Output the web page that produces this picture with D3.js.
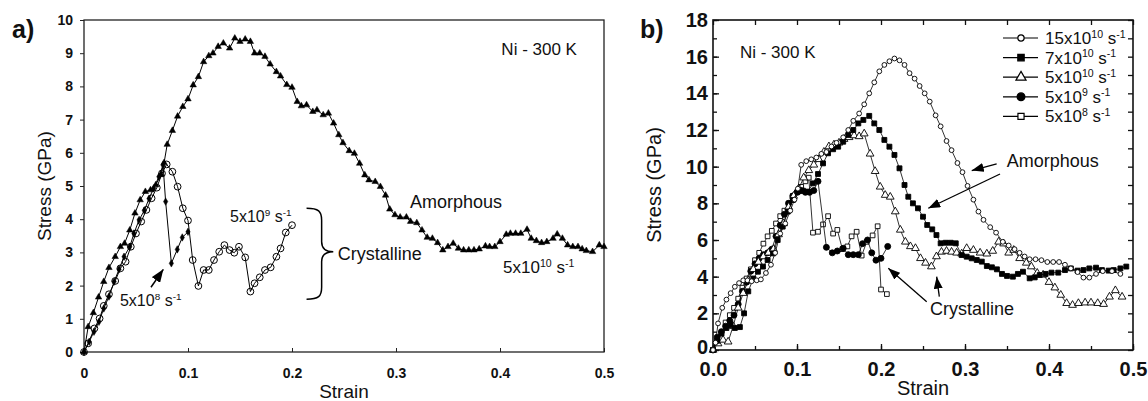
<!DOCTYPE html>
<html><head><meta charset="utf-8">
<script src="https://cdn.jsdelivr.net/npm/d3@7/dist/d3.min.js"></script>
<style>body{margin:0;background:#fff}svg{display:block}</style>
</head><body>
<svg id="c" width="1148" height="401"></svg>
<script>
// ---------- Panel a data: [strain, stress GPa] ----------
const a_rate5e10 = [[0,0],[0.004,0.76],[0.009,1.18],[0.014,1.65],[0.019,2.12],[0.024,2.54],[0.030,2.87],[0.035,3.17],[0.039,3.27],[0.044,3.67],[0.049,4.18],[0.054,4.58],[0.059,4.83],[0.064,4.88],[0.069,5.03],[0.074,5.35],[0.077,5.7],[0.080,6.25],[0.085,6.67],[0.090,7.1],[0.095,7.39],[0.100,7.62],[0.105,8.04],[0.110,8.29],[0.115,8.74],[0.120,8.92],[0.124,9.0],[0.129,9.2],[0.134,9.3],[0.140,9.15],[0.145,9.45],[0.150,9.35],[0.155,9.42],[0.160,9.35],[0.164,9.0],[0.169,9.0],[0.174,8.9],[0.179,8.67],[0.185,8.44],[0.189,8.31],[0.195,8.05],[0.200,7.97],[0.205,7.54],[0.209,7.41],[0.214,7.44],[0.220,7.24],[0.224,7.29],[0.230,7.14],[0.235,7.19],[0.240,6.89],[0.245,6.54],[0.249,6.3],[0.255,6.06],[0.260,5.98],[0.265,5.68],[0.270,5.33],[0.274,5.18],[0.280,5.13],[0.285,4.98],[0.290,4.72],[0.294,4.3],[0.299,4.13],[0.304,4.06],[0.310,4.06],[0.314,3.93],[0.320,3.89],[0.325,3.67],[0.330,3.45],[0.335,3.42],[0.340,3.29],[0.345,3.07],[0.350,3.17],[0.355,3.27],[0.360,3.12],[0.365,3.07],[0.370,3.07],[0.375,3.07],[0.380,3.1],[0.386,3.19],[0.390,3.17],[0.395,3.17],[0.400,3.32],[0.406,3.54],[0.410,3.57],[0.415,3.57],[0.420,3.57],[0.426,3.69],[0.430,3.42],[0.435,3.35],[0.440,3.29],[0.445,3.32],[0.451,3.42],[0.455,3.55],[0.460,3.42],[0.465,3.22],[0.470,3.17],[0.475,3.17],[0.479,3.1],[0.483,3.05],[0.489,3.02],[0.4955,3.22],[0.500,3.17]];
const a_rate5e9 = [[0,0],[0.004,0.26],[0.010,0.71],[0.015,1.01],[0.019,1.39],[0.024,1.74],[0.030,2.14],[0.035,2.52],[0.040,2.72],[0.045,3.17],[0.050,3.57],[0.055,3.93],[0.060,4.28],[0.065,4.63],[0.070,4.95],[0.075,5.38],[0.0795,5.65],[0.085,5.43],[0.090,4.98],[0.095,4.33],[0.100,3.96],[0.1045,2.77],[0.110,1.99],[0.115,2.47],[0.120,2.47],[0.125,2.77],[0.130,3.02],[0.135,3.22],[0.140,3.07],[0.1445,2.99],[0.149,3.17],[0.155,2.85],[0.160,1.82],[0.164,2.07],[0.169,2.25],[0.174,2.47],[0.1795,2.55],[0.185,2.87],[0.189,3.12],[0.194,3.6],[0.200,3.82]];
const a_rate5e8 = [[0,0],[0.005,0.31],[0.0096,0.61],[0.0144,0.91],[0.019,1.31],[0.024,1.67],[0.029,2.12],[0.0337,2.49],[0.0385,2.87],[0.044,3.17],[0.048,3.57],[0.053,3.98],[0.058,4.26],[0.0625,4.62],[0.067,4.93],[0.072,5.28],[0.076,5.63],[0.0785,4.53],[0.084,2.67],[0.0897,3.09],[0.0945,3.45],[0.100,3.62]];

// ---------- Panel b data ----------
const b_rate15e10 = [[0,0],[0.003,0.4],[0.006,1.45],[0.011,2.3],[0.016,2.75],[0.021,3.1],[0.026,3.45],[0.031,3.65],[0.036,3.8],[0.041,3.8],[0.046,3.75],[0.052,3.8],[0.057,3.85],[0.063,4.2],[0.069,4.65],[0.074,5.3],[0.080,6.35],[0.086,6.9],[0.092,7.6],[0.097,8.2],[0.101,8.8],[0.105,10.1],[0.111,10.3],[0.117,10.4],[0.123,10.5],[0.129,10.7],[0.135,10.8],[0.141,11.1],[0.147,11.3],[0.155,11.6],[0.161,12.0],[0.167,12.5],[0.174,12.9],[0.180,13.4],[0.186,14.0],[0.192,14.6],[0.198,15.2],[0.204,15.55],[0.210,15.75],[0.216,15.9],[0.222,15.8],[0.228,15.55],[0.234,15.1],[0.240,14.8],[0.246,14.4],[0.252,14.0],[0.258,13.55],[0.265,12.8],[0.271,12.2],[0.278,11.4],[0.284,10.9],[0.291,10.2],[0.297,9.7],[0.303,8.95],[0.310,8.2],[0.316,7.55],[0.322,7.1],[0.330,6.7],[0.337,6.4],[0.345,5.9],[0.352,5.7],[0.359,5.5],[0.365,5.3],[0.371,5.1],[0.377,4.95],[0.384,4.95],[0.391,4.9],[0.398,4.8],[0.405,4.8],[0.412,4.8],[0.419,4.65],[0.426,4.45],[0.434,4.25],[0.441,3.95],[0.448,3.95],[0.456,4.15],[0.464,4.3],[0.475,4.3],[0.485,4.15]];
const b_rate7e10 = [[0,0],[0.005,0.5],[0.010,0.9],[0.016,1.2],[0.021,1.35],[0.026,1.2],[0.032,1.25],[0.037,2.0],[0.042,3.2],[0.048,3.9],[0.0535,4.27],[0.0595,4.55],[0.065,4.91],[0.0715,5.27],[0.077,6.0],[0.083,6.73],[0.089,7.55],[0.095,8.18],[0.101,8.64],[0.107,8.69],[0.113,8.64],[0.119,9.09],[0.125,9.6],[0.131,10.18],[0.137,10.73],[0.143,10.95],[0.149,11.09],[0.155,11.36],[0.161,11.73],[0.167,12.0],[0.173,12.36],[0.179,12.55],[0.186,12.77],[0.192,12.36],[0.198,12.0],[0.204,11.46],[0.210,11.09],[0.216,10.64],[0.222,9.91],[0.228,9.0],[0.2325,8.36],[0.238,8.0],[0.244,7.73],[0.250,7.27],[0.255,6.82],[0.261,6.58],[0.266,6.27],[0.271,5.82],[0.277,5.85],[0.283,5.85],[0.289,5.82],[0.296,5.18],[0.302,5.09],[0.308,5.0],[0.314,4.91],[0.320,4.82],[0.326,4.58],[0.332,4.51],[0.338,4.4],[0.344,4.15],[0.350,4.04],[0.357,4.0],[0.363,4.15],[0.369,4.27],[0.377,3.91],[0.383,3.96],[0.389,4.09],[0.396,4.15],[0.403,4.22],[0.411,4.22],[0.419,4.36],[0.426,4.45],[0.434,4.33],[0.441,4.36],[0.448,4.45],[0.456,4.49],[0.463,4.36],[0.471,4.33],[0.477,4.36],[0.485,4.45],[0.492,4.55]];
const b_rate5e10 = [[0,0],[0.006,0.35],[0.012,0.55],[0.018,0.45],[0.024,1.3],[0.030,2.3],[0.036,3.1],[0.042,3.8],[0.048,4.4],[0.054,4.8],[0.060,5.1],[0.066,5.3],[0.072,5.5],[0.078,6.3],[0.084,6.9],[0.090,7.8],[0.096,8.4],[0.102,8.8],[0.108,9.4],[0.114,9.8],[0.120,10.1],[0.126,10.4],[0.132,10.8],[0.138,11.1],[0.144,11.2],[0.150,11.3],[0.156,11.5],[0.162,11.6],[0.168,11.7],[0.174,11.65],[0.180,11.8],[0.187,10.7],[0.193,9.75],[0.199,8.9],[0.205,8.45],[0.211,8.35],[0.217,7.55],[0.223,6.55],[0.229,5.9],[0.235,5.65],[0.241,5.55],[0.247,5.0],[0.253,4.75],[0.260,4.55],[0.266,5.1],[0.272,5.35],[0.278,5.4],[0.284,5.35],[0.290,5.3],[0.296,5.25],[0.302,5.55],[0.310,5.45],[0.318,5.3],[0.326,5.25],[0.333,5.4],[0.340,5.9],[0.346,5.8],[0.352,5.3],[0.358,5.45],[0.365,5.0],[0.373,4.75],[0.379,4.55],[0.386,4.2],[0.393,4.1],[0.400,3.7],[0.407,3.4],[0.414,3.0],[0.421,2.55],[0.428,2.45],[0.435,2.55],[0.443,2.58],[0.450,2.58],[0.458,2.55],[0.465,2.5],[0.472,2.9],[0.479,3.25],[0.487,2.9]];
const b_rate5e9 = [[0,0],[0.005,0.7],[0.010,1.0],[0.015,1.3],[0.020,1.6],[0.025,1.9],[0.030,2.5],[0.035,3.2],[0.040,3.7],[0.045,4.3],[0.050,4.7],[0.055,5.0],[0.060,5.2],[0.065,5.3],[0.070,5.5],[0.075,6.2],[0.080,6.8],[0.085,7.4],[0.090,8.0],[0.095,8.4],[0.100,8.6],[0.105,8.7],[0.110,8.6],[0.115,8.6],[0.120,8.7],[0.125,9.2],[0.135,5.6],[0.142,5.3],[0.148,5.4],[0.155,5.55],[0.161,5.2],[0.167,5.2],[0.173,5.2],[0.178,5.8],[0.184,6.0],[0.189,5.3],[0.194,4.9],[0.200,5.0],[0.208,5.65]];
const b_rate5e8 = [[0,0],[0.005,0.5],[0.010,0.9],[0.015,1.5],[0.020,1.9],[0.025,2.3],[0.030,2.8],[0.035,3.4],[0.040,3.9],[0.045,4.4],[0.050,4.9],[0.055,5.3],[0.060,5.8],[0.065,6.2],[0.070,6.5],[0.075,6.9],[0.080,7.3],[0.085,7.6],[0.090,8.0],[0.095,8.4],[0.100,8.6],[0.105,8.9],[0.110,9.2],[0.114,9.4],[0.119,6.4],[0.125,6.45],[0.131,6.85],[0.137,7.3],[0.143,6.35],[0.148,6.55],[0.154,5.5],[0.160,5.65],[0.165,6.2],[0.171,6.45],[0.177,5.15],[0.183,5.9],[0.190,6.25],[0.196,6.75],[0.200,3.3],[0.207,3.05]];

// ---------- Tick labels ----------
const aXTicks = [0,0.1,0.2,0.3,0.4,0.5];
const aXLabels = ["0","0.1","0.2","0.3","0.4","0.5"];
const aYTicks = [0,1,2,3,4,5,6,7,8,9,10];
const bXTicks = [0,0.1,0.2,0.3,0.4,0.5];
const bXLabels = ["0.0","0.1","0.2","0.3","0.4","0.5"];
const bYTicks = [0,2,4,6,8,10,12,14,16,18];
const legendNames = [["15x10","10"],["7x10","10"],["5x10","10"],["5x10","9"],["5x10","8"]];

const FONT = '"Liberation Sans", Arial, Helvetica, sans-serif';
const svg = d3.select("#c");
const defs = svg.append("defs");
function headMarker(id, w, h){
  defs.append("marker").attr("id",id).attr("viewBox",`0 0 ${w} ${h}`)
    .attr("refX",w).attr("refY",h/2).attr("markerWidth",w).attr("markerHeight",h)
    .attr("markerUnits","userSpaceOnUse").attr("orient","auto")
    .append("path").attr("d",`M0,0L${w},${h/2}L0,${h}Z`).attr("fill","#000");
}
headMarker("headA",13,10);
headMarker("headB",12,9);

// ---------- Panel a ----------
const xA = d3.scaleLinear().domain([0,0.5]).range([84,604]);
const yA = d3.scaleLinear().domain([0,10]).range([352,20]);
const gA = svg.append("g");

gA.append("g").attr("transform","translate(0,352)")
  .call(d3.axisBottom(xA).tickValues(aXTicks).tickFormat((d,i)=>aXLabels[i]).tickSize(-4).tickPadding(16))
  .call(g=>g.select(".domain").remove());
gA.append("g").attr("transform","translate(84,0)")
  .call(d3.axisLeft(yA).tickValues(aYTicks).tickFormat(d3.format("d")).tickSize(4).tickPadding(7))
  .call(g=>g.select(".domain").remove());
gA.selectAll(".tick text").attr("font-family",FONT).attr("font-weight","bold").attr("font-size",14).attr("fill","#111");
gA.selectAll(".tick line").attr("stroke","#222");
gA.append("rect").attr("x",xA(0)).attr("y",yA(10)).attr("width",xA(0.5)-xA(0)).attr("height",yA(0)-yA(10))
  .attr("fill","none").attr("stroke","#222").attr("stroke-width",1.3);

const lineA = d3.line().x(d=>xA(d[0])).y(d=>yA(d[1]));
function drawSeries(g, data, line, sym, opts){
  g.append("path").attr("d",line(data)).attr("fill","none").attr("stroke","#000").attr("stroke-width",opts.lw||1);
  g.selectAll(null).data(data).enter().append("path")
    .attr("transform",d=>`translate(${line.x()(d)},${line.y()(d)})`)
    .attr("d",d3.symbol().type(sym).size(opts.size))
    .attr("fill",opts.fill).attr("stroke","#000").attr("stroke-width",opts.sw||1);
}
drawSeries(gA, a_rate5e10, lineA, d3.symbolTriangle, {size:18, fill:"#000", sw:0.5});
drawSeries(gA, a_rate5e8, lineA, d3.symbolDiamond, {size:16, fill:"#000", sw:0.5});
drawSeries(gA, a_rate5e9, lineA, d3.symbolCircle, {size:36, fill:"none", sw:1});

function rateText(g, x, y, base, exp, size, anchor){
  const t = g.append("text").attr("x",x).attr("y",y).attr("font-family",FONT).attr("font-size",size).attr("fill","#111");
  if(anchor) t.attr("text-anchor",anchor);
  t.append("tspan").text(base);
  t.append("tspan").text(exp).attr("font-size",size*0.62).attr("dy",-size*0.38);
  t.append("tspan").text(" s").attr("dy",size*0.38);
  t.append("tspan").text("-1").attr("font-size",size*0.62).attr("dy",-size*0.38);
  return t;
}
function label(g, x, y, s, size, extra){
  const t = g.append("text").attr("x",x).attr("y",y).attr("font-family",FONT).attr("font-size",size).attr("fill","#111").text(s);
  if(extra) extra(t);
  return t;
}
label(gA, 12, 38, "a)", 25, t=>t.attr("font-weight","bold"));
label(gA, xA(0.474), yA(8.95), "Ni - 300 K", 17, t=>t.attr("text-anchor","end"));
label(gA, xA(0.3135), yA(4.34), "Amorphous", 18);
rateText(gA, xA(0.403), yA(2.38), "5x10", "10", 17);
label(gA, xA(0.244), yA(2.77), "Crystalline", 18);
rateText(gA, xA(0.1404), yA(3.92), "5x10", "9", 16);
rateText(gA, xA(0.0346), yA(1.39), "5x10", "8", 16);
gA.append("line").attr("x1",xA(0.0644)).attr("y1",yA(1.95)).attr("x2",xA(0.0763)).attr("y2",yA(2.49))
  .attr("stroke","#000").attr("stroke-width",1.5).attr("marker-end","url(#headA)");
// brace
{
  const L=xA(0.214), M=xA(0.2285), T=xA(0.2397), top=yA(4.33), mid=yA(3.02), bot=yA(1.59);
  const p = d3.path();
  p.moveTo(L,top); p.bezierCurveTo(M-3,top, M,top+3, M,top+12);
  p.lineTo(M,mid-10); p.bezierCurveTo(M,mid-3, M+4,mid, T,mid);
  p.bezierCurveTo(M+4,mid, M,mid+3, M,mid+10);
  p.lineTo(M,bot-12); p.bezierCurveTo(M,bot-3, M-3,bot, L,bot);
  gA.append("path").attr("d",p.toString()).attr("fill","none").attr("stroke","#000").attr("stroke-width",1.5);
}
label(gA, xA(0.25), 398, "Strain", 19, t=>t.attr("text-anchor","middle"));
label(gA, 0, 0, "Stress (GPa)", 19, t=>t.attr("text-anchor","middle").attr("transform",`translate(51,${yA(5)}) rotate(-90)`));

// ---------- Panel b ----------
const xB = d3.scaleLinear().domain([0,0.5]).range([713,1133]);
const yB = d3.scaleLinear().domain([0,18]).range([350,20]);
const gB = svg.append("g");
const bXMinor = d3.range(0,0.5001,0.05);
const bYMinor = d3.range(0,18.001,1);
function axesB(){
  gB.append("g").attr("transform","translate(0,350)")
    .call(d3.axisBottom(xB).tickValues(bXTicks).tickFormat((d,i)=>bXLabels[i]).tickSize(-6).tickPadding(12))
    .call(g=>g.select(".domain").remove());
  gB.append("g").attr("transform","translate(0,350)")
    .call(d3.axisBottom(xB).tickValues(bXMinor).tickFormat("").tickSize(-4))
    .call(g=>g.select(".domain").remove());
  gB.append("g").attr("transform","translate(0,20)")
    .call(d3.axisTop(xB).tickValues(bXMinor).tickFormat("").tickSize(-5))
    .call(g=>g.select(".domain").remove());
  gB.append("g").attr("class","yb").attr("transform","translate(713,0)")
    .call(d3.axisLeft(yB).tickValues(bYTicks).tickFormat(d3.format("d")).tickSize(-6).tickPadding(5))
    .call(g=>g.select(".domain").remove());
  gB.append("g").attr("transform","translate(713,0)")
    .call(d3.axisLeft(yB).tickValues(bYMinor).tickFormat("").tickSize(-4))
    .call(g=>g.select(".domain").remove());
  gB.append("g").attr("transform","translate(1133,0)")
    .call(d3.axisRight(yB).tickValues(bYMinor).tickFormat("").tickSize(-5))
    .call(g=>g.select(".domain").remove());
}
axesB();
gB.selectAll(".tick text").attr("font-family",FONT).attr("font-weight","bold").attr("font-size",20).attr("fill","#111");
gB.selectAll(".yb .tick text").filter(d=>d===0).attr("dy","0.17em");
gB.selectAll(".tick line").attr("stroke","#111").attr("stroke-width",1.3);
gB.append("rect").attr("x",xB(0)).attr("y",yB(18)).attr("width",xB(0.5)-xB(0)).attr("height",yB(0)-yB(18))
  .attr("fill","none").attr("stroke","#111").attr("stroke-width",1.6);

const lineB = d3.line().x(d=>xB(d[0])).y(d=>yB(d[1]));
const styleB = [
  {data:b_rate5e8, sym:d3.symbolSquare, size:22, fill:"#fff"},
  {data:b_rate5e9, sym:d3.symbolCircle, size:28, fill:"#000"},
  {data:b_rate5e10, sym:d3.symbolTriangle, size:26, fill:"#fff"},
  {data:b_rate7e10, sym:d3.symbolSquare, size:24, fill:"#000"},
  {data:b_rate15e10, sym:d3.symbolCircle, size:18, fill:"#fff"}
];
styleB.forEach(s=>drawSeries(gB, s.data, lineB, s.sym, {size:s.size, fill:s.fill, sw:0.9, lw:0.8}));

label(gB, 640, 38, "b)", 25, t=>t.attr("font-weight","bold"));
label(gB, xB(0.0321), yB(15.93), "Ni - 300 K", 17);
label(gB, xB(0.3496), yB(9.98), "Amorphous", 18);
label(gB, xB(0.2583), yB(1.91), "Crystalline", 18);
[[0.3377,10.15,0.308,9.79],[0.3417,9.6,0.2563,7.73],[0.2544,2.63,0.2087,4.46],[0.2694,2.91,0.2663,4.0]].forEach(a=>{
  gB.append("line").attr("x1",xB(a[0])).attr("y1",yB(a[1])).attr("x2",xB(a[2])).attr("y2",yB(a[3]))
    .attr("stroke","#000").attr("stroke-width",1.3).attr("marker-end","url(#headB)");
});
label(gB, xB(0.25), 395, "Strain", 20, t=>t.attr("text-anchor","middle"));
label(gB, 0, 0, "Stress (GPa)", 20, t=>t.attr("text-anchor","middle").attr("transform",`translate(661,${yB(9)}) rotate(-90)`));

// legend
const legStyles = [styleB[4],styleB[3],styleB[2],styleB[1],styleB[0]];
const leg = gB.append("g").attr("transform","translate(1003,38)");
legendNames.forEach((n,i)=>{
  const row = leg.append("g").attr("transform",`translate(0,${i*19.6})`);
  row.append("line").attr("x1",0).attr("x2",35).attr("y1",0).attr("y2",0).attr("stroke","#000").attr("stroke-width",1.2);
  const s = legStyles[i];
  row.append("path").attr("transform","translate(18,0)").attr("d",d3.symbol().type(s.sym).size(s.size*1.7)())
    .attr("fill",s.fill).attr("stroke","#000").attr("stroke-width",1.2);
  rateText(row, 42, 6, n[0], n[1], 17);
});
</script>
</body></html>
